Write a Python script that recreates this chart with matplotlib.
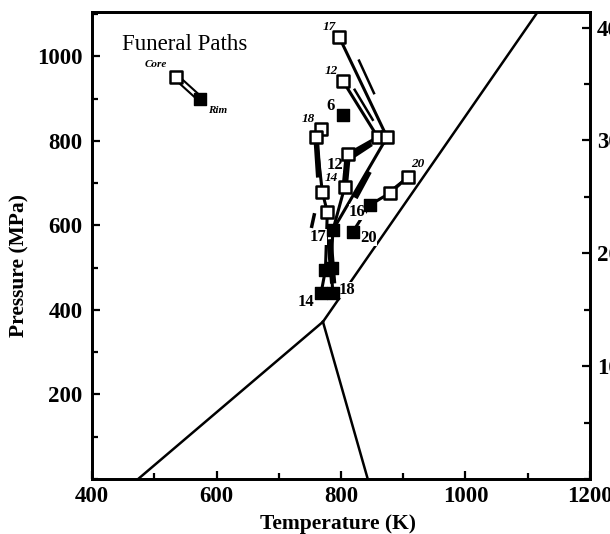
import numpy as np
import matplotlib
matplotlib.use('Agg')
import matplotlib.pyplot as plt
from matplotlib.ticker import MultipleLocator

plt.rcParams['font.family'] = ['Liberation Serif', 'DejaVu Serif']
plt.rcParams['font.weight'] = 'bold'

# reaction / boundary lines (T in K, P in MPa)
line_lo_T = [474, 771]
line_lo_P = [0, 372]
line_up_T = [771, 1116]
line_up_P = [372, 1105]
line_dn_T = [771, 843]
line_dn_P = [372, 0]

# garnet paths, core -> rim
path17_T = [797, 874, 787, 784, 787]
path17_P = [1046, 809, 589, 499, 440]
path12_T = [803, 859, 811, 806, 787]
path12_P = [942, 809, 769, 691, 589]
path18_T = [768, 760, 770, 778, 775, 768]
path18_P = [828, 809, 679, 632, 495, 440]
path20_T = [908, 879, 847, 819]
path20_P = [715, 677, 649, 585]

# open squares (cores / intermediate)
open_T = [797, 803, 768, 760, 859, 874, 811, 806, 770, 778, 908, 879]
open_P = [1046, 942, 828, 809, 809, 809, 769, 691, 679, 632, 715, 677]
# filled squares (rims)
fill_T = [803, 847, 819, 787, 775, 785, 768, 787]
fill_P = [862, 649, 585, 589, 495, 499, 440, 440]

# legend example
leg_T = [535, 574]
leg_P = [951, 899]

# depth axis
km_per_mpa = 1 / 26.7

fig = plt.figure(figsize=(6.10, 5.34), dpi=100)
ax = fig.add_axes([0.151, 0.103, 0.816, 0.8745])

ax.plot(line_lo_T, line_lo_P, color='black', lw=1.8)
ax.plot(line_up_T, line_up_P, color='black', lw=1.8)
ax.plot(line_dn_T, line_dn_P, color='black', lw=1.8)

for t, p in [(path17_T, path17_P), (path12_T, path12_P), (path18_T, path18_P), (path20_T, path20_P)]:
    ax.plot(t, p, color='black', lw=2.2, zorder=2)

# heavy wedge segments along the paths
ax.plot([811, 806], [769, 691], color='black', lw=4.5, zorder=2)
ax.plot([760, 764], [809, 720], color='black', lw=4, zorder=2)
ax.plot([816, 845], [762, 790], color='black', lw=4, zorder=2)
ax.plot([782, 787], [560, 470], color='black', lw=4.5, zorder=2)
ax.plot([844, 825], [722, 670], color='black', lw=3.5, zorder=2)
# offset companion lines
ax.plot([829, 853], [990, 913], color='black', lw=1.8)
ax.plot([822, 851], [921, 850], color='black', lw=1.8)
ax.plot([886, 903], [690, 710], color='black', lw=1.5)
ax.plot([753, 757], [598, 625], color='black', lw=2.5)

# legend: core -> rim (hollow line)
ax.plot(leg_T, leg_P, color='black', lw=5, solid_capstyle='butt', zorder=3)
ax.plot(leg_T, leg_P, color='white', lw=2, solid_capstyle='butt', zorder=3)
ax.scatter([leg_T[0]], [leg_P[0]], s=80, marker='s', facecolors='white', edgecolors='black',
           linewidths=1.8, zorder=6)
ax.scatter([leg_T[1]], [leg_P[1]], s=64, marker='s', facecolors='black', edgecolors='black', zorder=6)

ax.scatter(open_T, open_P, s=80, marker='s', facecolors='white', edgecolors='black',
           linewidths=1.8, zorder=6)
ax.scatter(fill_T, fill_P, s=64, marker='s', facecolors='black', edgecolors='black', zorder=6)

ax.text(549, 1027, 'Funeral Paths', fontsize=16.5, fontweight='normal', ha='center', va='center')
ax.text(503, 981, 'Core', fontsize=8, style='italic', ha='center', va='center')
ax.text(601, 871, 'Rim', fontsize=8, style='italic', ha='center', va='center')

# core labels (italic)
for s, t, p in [('17', 782, 1070), ('12', 785, 966), ('18', 747, 852), ('14', 784, 712), ('20', 923, 745)]:
    ax.text(t, p, s, fontsize=9.5, style='italic', ha='center', va='center', zorder=7)
# rim labels
for s, t, p in [('6', 784, 883), ('12', 790, 743), ('16', 826, 632), ('20', 845, 570),
                ('17', 763, 573), ('14', 744, 419), ('18', 810, 447)]:
    ax.text(t, p, s, fontsize=12, ha='center', va='center', zorder=5,
            bbox=dict(fc='white', ec='none', pad=0.1))

ax.set_xlim(400, 1200)
ax.set_ylim(0, 1105)
ax.xaxis.set_major_locator(MultipleLocator(200))
ax.xaxis.set_minor_locator(MultipleLocator(100))
ax.yaxis.set_major_locator(MultipleLocator(200))
ax.yaxis.set_minor_locator(MultipleLocator(100))
ax.tick_params(which='both', direction='in', width=1.6, labelsize=16.5, top=False, right=False)
ax.tick_params(which='major', length=6)
ax.tick_params(which='minor', length=4)
ax.tick_params(axis='y', pad=7)
ax.tick_params(axis='x', pad=5)
ax.set_xticks([400, 600, 800, 1000, 1200])
ax.set_yticks([200, 400, 600, 800, 1000])
ax.set_xlabel('Temperature (K)', fontsize=15.5, fontweight='bold')
ax.set_ylabel('Pressure (MPa)', fontsize=15.5, fontweight='bold')
ax.xaxis.set_label_coords(0.494, -0.075)
ax.yaxis.set_label_coords(-0.125, 0.458)
for sp in ax.spines.values():
    sp.set_linewidth(2)

ax2 = ax.twinx()
ax2.set_ylim(0, 1105 * km_per_mpa)
ax2.yaxis.set_major_locator(MultipleLocator(10))
ax2.yaxis.set_minor_locator(MultipleLocator(5))
ax2.set_yticks([10, 20, 30, 40])
ax2.tick_params(which='both', direction='in', width=1.6, labelsize=16.5, pad=5)
ax2.tick_params(which='major', length=6)
ax2.tick_params(which='minor', length=4)
for sp in ax2.spines.values():
    sp.set_linewidth(2)

fig.savefig('out.png', dpi=100)
